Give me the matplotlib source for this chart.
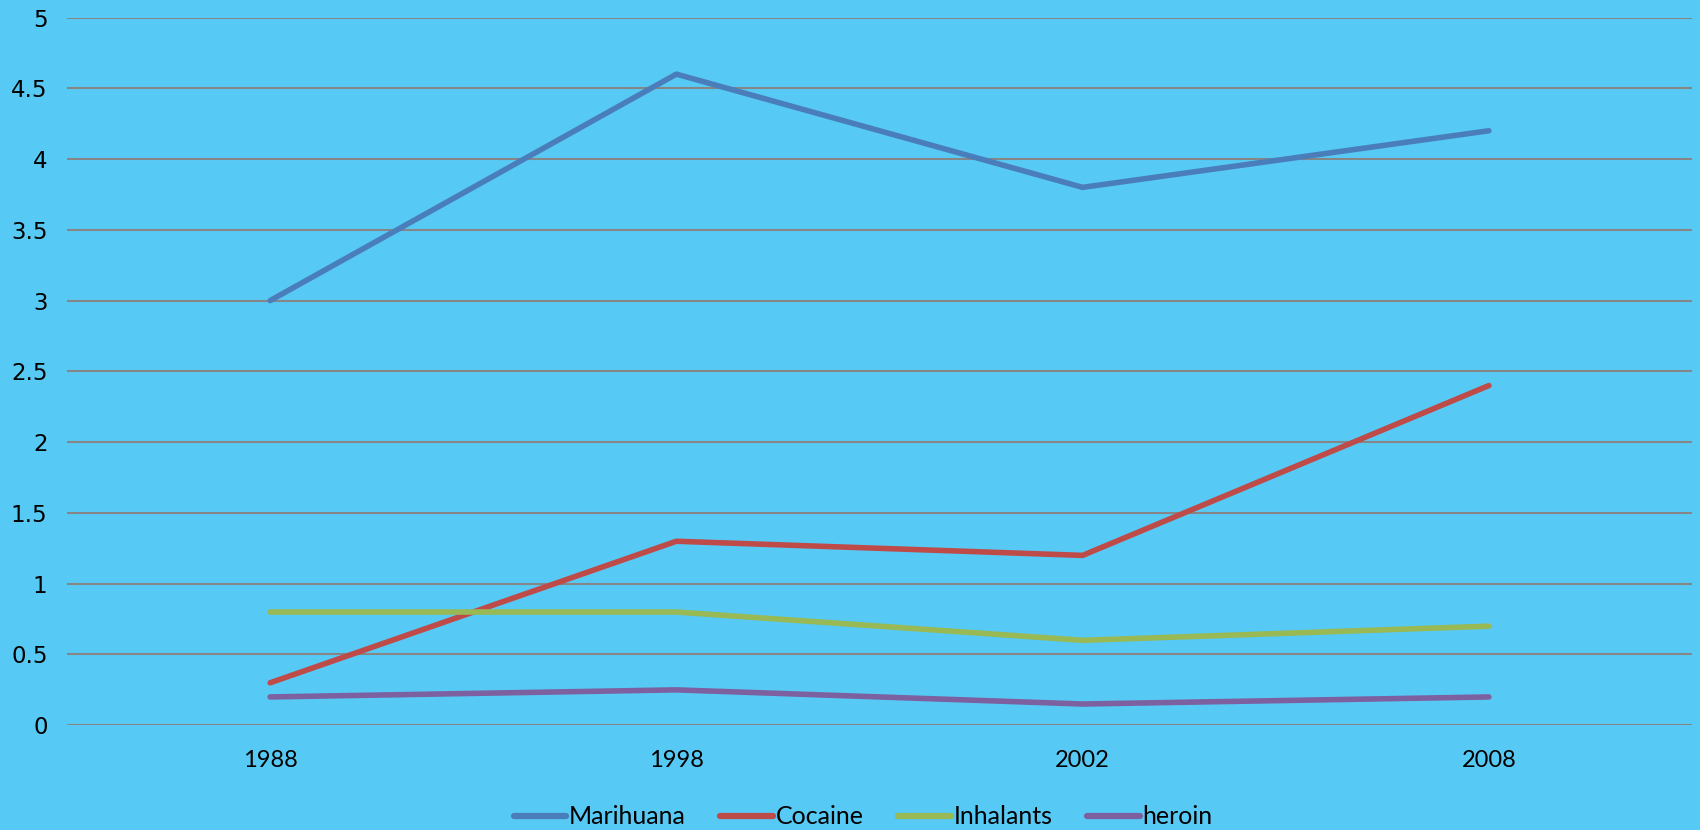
import matplotlib.pyplot as plt

# --- Données ---
annees = ["1988", "1998", "2002", "2008"]
marihuana = [3.0, 4.6, 3.8, 4.2]
cocaine = [0.3, 1.3, 1.2, 2.4]
inhalants = [0.8, 0.8, 0.6, 0.7]
heroin = [0.2, 0.25, 0.15, 0.2]

series = [
    ("Marihuana", marihuana, "#4a7ebb"),
    ("Cocaine", cocaine, "#be4b48"),
    ("Inhalants", inhalants, "#98b954"),
    ("heroin", heroin, "#7d60a0"),
]

fond = "#57c9f5"

fig = plt.figure(figsize=(17, 8.30), dpi=100, facecolor=fond)
ax = fig.add_axes([0.0394, 0.1262, 0.9559, 0.8527], facecolor=fond)

x = list(range(len(annees)))
for nom, valeurs, couleur in series:
    ax.plot(x, valeurs, color=couleur, lw=4, solid_capstyle="round",
            solid_joinstyle="round", label=nom, zorder=3)

ax.set_xlim(-0.5, len(annees) - 0.5)
ax.set_ylim(0, 5)
ax.set_yticks([i * 0.5 for i in range(11)])
ax.set_yticklabels(["0", "0.5", "1", "1.5", "2", "2.5", "3", "3.5", "4", "4.5", "5"],
                   fontsize=16.5, family="DejaVu Sans")
ax.set_xticks(x)
ax.set_xticklabels(annees, fontsize=17, family="Lato")
ax.tick_params(axis="both", length=0)
ax.tick_params(axis="y", pad=14)
ax.tick_params(axis="x", pad=18)
ax.grid(axis="y", color="#868686", lw=1.5, zorder=1)
for s in ax.spines.values():
    s.set_visible(False)

leg = fig.legend(loc="lower center", bbox_to_anchor=(0.5077, -0.025), ncol=4,
                 frameon=False, prop={"family": "Lato", "size": 18},
                 handlelength=2.1, handletextpad=0.1, columnspacing=1.4)
for ligne in leg.get_lines():
    ligne.set_linewidth(4.5)
    ligne.set_solid_capstyle("round")

fig.savefig("out.png", facecolor=fond)
